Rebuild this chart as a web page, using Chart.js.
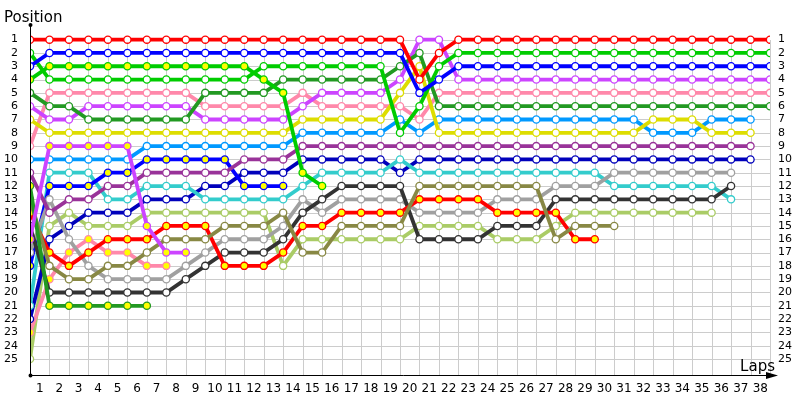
<!DOCTYPE html>
<html>
<head>
<meta charset="utf-8">
<script src="https://cdn.jsdelivr.net/npm/chart.js@4.4.1/dist/chart.umd.min.js"></script>
<style>
    html, body { margin: 0; padding: 0; background: #fff; }
    #wrap { width: 800px; height: 400px; position: relative; }
</style>
</head>
<body>
<div id="wrap"><canvas id="lapChart"></canvas></div>
<script>
// Lap chart data: position of each car after lap 0..38 (null = retired)
const laps = [0,1,2,3,4,5,6,7,8,9,10,11,12,13,14,15,16,17,18,19,20,21,22,23,24,25,26,27,28,29,30,31,32,33,34,35,36,37,38];
const lapLabels = [1,2,3,4,5,6,7,8,9,10,11,12,13,14,15,16,17,18,19,20,21,22,23,24,25,26,27,28,29,30,31,32,33,34,35,36,37,38];
const positions = [1,2,3,4,5,6,7,8,9,10,11,12,13,14,15,16,17,18,19,20,21,22,23,24,25];

const red      = [1,1,1,1,1,1,1,1,1,1, 1,1,1,1,1,1,1,1,1,1, 4,2,1,1,1,1,1,1,1,1, 1,1,1,1,1,1,1,1,1];
const blue     = [3,2,2,2,2,2,2,2,2,2, 2,2,2,2,2,2,2,2,2,2, 5,4,3,3,3,3,3,3,3,3, 3,3,3,3,3,3,3,3,3];
const green    = [2,4,4,4,4,4,4,4,4,4, 4,4,3,3,3,3,3,3,3,8, 6,3,2,2,2,2,2,2,2,2, 2,2,2,2,2,2,2,2,2];
const greenY   = [4,3,3,3,3,3,3,3,3,3, 3,3,4,5,11,12];
const dkGreen  = [5,6,6,7,7,7,7,7,7,5, 5,5,5,4,4,4,4,4,4,3, 2,6,6,6,6,6,6,6,6,6, 6,6,6,6,6,6,6,6,6];
const purple   = [6,7,7,6,6,6,6,6,6,7, 7,7,7,7,6,5,5,5,5,4, 1,1,4,4,4,4,4,4,4,4, 4,4,4,4,4,4,4,4,4];
const yellow   = [7,8,8,8,8,8,8,8,8,8, 8,8,8,8,7,7,7,7,7,5, 3,8,8,8,8,8,8,8,8,8, 8,8,7,7,7,8,8,8];
const pink     = [9,5,5,5,5,5,5,5,5,6, 6,6,6,6,5,6,6,6,6,6, 7,5,5,5,5,5,5,5,5,5, 5,5,5,5,5,5,5,5,5];
const purpleY  = [16,9,9,9,9,9,15,17,17];
const ltBlue   = [10,10,10,10,10,10,9,9,9,9, 9,9,9,9,8,8,8,8,8,7, 8,7,7,7,7,7,7,7,7,7, 7,7,8,8,8,7,7,7];
const dkPurple = [11,14,13,13,12,12,11,11,11,11, 11,10,10,10,9,9,9,9,9,9, 9,9,9,9,9,9,9,9,9,9, 9,9,9,9,9,9,9,9];
const dkGreenY = [12,21,21,21,21,21,21];
const olive    = [13,18,19,19,18,18,17,16,16,16, 15,15,15,14,17,17,15,15,15,15, 12,12,12,12,12,12,12,16,15,15, 15];
const redY     = [14,17,18,17,16,16,16,15,15,15, 18,18,18,17,15,15,14,14,14,14, 13,13,13,13,14,14,14,14,16,16];
const black    = [15,20,20,20,20,20,20,20,19,18, 17,17,17,16,14,13,12,12,12,12, 16,16,16,16,15,15,15,13,13,13, 13,13,13,13,13,13,12];
const gray     = [17,13,16,18,19,19,19,19,18,17, 16,16,16,15,13,14,13,13,13,13, 14,14,14,14,13,13,13,12,12,12, 11,11,11,11,11,11,11];
const blueY    = [18,12,12,12,11,11,10,10,10,10, 10,12,12,12];
const cyan     = [21,11,11,11,13,13,12,12,12,13, 13,13,13,13,12,11,11,11,11,10, 11,11,11,11,11,11,11,11,11,11, 12,12,12,12,12,12,13];
const dkBlue   = [22,16,15,14,14,14,13,13,13,12, 12,11,11,11,10,10,10,10,10,11, 10,10,10,10,10,10,10,10,10,10, 10,10,10,10,10,10,10,10];
const pinkY    = [23,19,17,16,17,17,18,18];
const ltGreen  = [25,15,14,15,15,15,14,14,14,14, 14,14,14,18,16,16,16,16,16,16, 15,15,15,15,16,16,16,15,14,14, 14,14,14,14,14,14];

// [data, line colour, marker fill]
const cars = [
    [red, '#ff0000', '#ffffff'],
    [blue, '#0000ff', '#ffffff'],
    [green, '#00cc00', '#ffffff'],
    [greenY, '#00cc00', '#ffff00'],
    [dkGreen, '#229922', '#ffffff'],
    [purple, '#cc44ff', '#ffffff'],
    [yellow, '#dddd00', '#ffffff'],
    [pink, '#ff88aa', '#ffffff'],
    [purpleY, '#cc44ff', '#ffff00'],
    [ltBlue, '#0099ff', '#ffffff'],
    [dkPurple, '#993399', '#ffffff'],
    [dkGreenY, '#229922', '#ffff00'],
    [olive, '#888844', '#ffffff'],
    [redY, '#ff0000', '#ffff00'],
    [black, '#333333', '#ffffff'],
    [gray, '#a0a0a0', '#ffffff'],
    [blueY, '#0000ff', '#ffff00'],
    [cyan, '#33cccc', '#ffffff'],
    [dkBlue, '#0000bb', '#ffffff'],
    [pinkY, '#ff88aa', '#ffff00'],
    [ltGreen, '#aacc66', '#ffffff']
];

const datasets = cars.map(([data, color, fill]) => ({
    data: data.map((p, i) => ({ x: laps[i], y: p })),
    borderColor: color,
    borderWidth: 3.8,
    pointRadius: 3.6,
    pointBorderWidth: 1.3,
    pointBackgroundColor: fill,
    pointBorderColor: color,
    tension: 0,
    spanGaps: false
}));

const tickFont = { family: 'DejaVu Sans', size: 11 };

// grid, axis lines with arrow and the two titles
const frame = {
    id: 'frame',
    beforeDatasetsDraw(chart) {
        const { ctx, scales: { x, y } } = chart;
        const top = y.getPixelForValue(1);
        const bottom = Math.round(chart.chartArea.bottom);
        const left = x.getPixelForValue(0);
        const right = x.getPixelForValue(38);
        ctx.save();
        ctx.strokeStyle = '#cccccc';
        ctx.lineWidth = 1;
        ctx.beginPath();
        positions.forEach(p => {
            const py = Math.round(y.getPixelForValue(p)) + 0.5;
            ctx.moveTo(left, py);
            ctx.lineTo(right, py);
        });
        laps.forEach(l => {
            const px = Math.round(x.getPixelForValue(l)) + 0.5;
            ctx.moveTo(px, Math.round(top));
            ctx.lineTo(px, bottom);
        });
        ctx.stroke();
        ctx.restore();
    },
    afterDraw(chart) {
        const { ctx, chartArea } = chart;
        const ax = Math.round(chartArea.left) + 0.5;
        const ay = Math.round(chartArea.bottom) + 0.5;
        ctx.save();
        ctx.strokeStyle = '#000';
        ctx.fillStyle = '#000';
        ctx.lineWidth = 1;
        ctx.beginPath();
        ctx.moveTo(ax, chartArea.top);
        ctx.lineTo(ax, ay);
        ctx.lineTo(chartArea.right + 6, ay);
        ctx.stroke();
        ctx.beginPath();
        ctx.arc(ax, chartArea.top, 2, 0, Math.PI * 2);
        ctx.arc(ax, ay, 2, 0, Math.PI * 2);
        ctx.fill();
        ctx.beginPath();
        ctx.moveTo(chartArea.right + 8, ay);
        ctx.lineTo(chartArea.right - 4, ay - 3.5);
        ctx.lineTo(chartArea.right - 4, ay + 3.5);
        ctx.closePath();
        ctx.fill();
        ctx.font = '15px "DejaVu Sans"';
        ctx.textBaseline = 'alphabetic';
        ctx.textAlign = 'left';
        ctx.fillText('Position', 4, 22);
        ctx.textAlign = 'right';
        ctx.fillText('Laps', 775, 371);
        ctx.restore();
    }
};

new Chart(document.getElementById('lapChart'), {
    type: 'line',
    data: { datasets },
    options: {
        responsive: true,
        maintainAspectRatio: false,
        animation: false,
        events: [],
        layout: { padding: { top: 25, left: 0, right: 0, bottom: 0 } },
        plugins: {
            legend: { display: false },
            tooltip: { enabled: false }
        },
        scales: {
            x: {
                type: 'linear',
                min: 0,
                max: 38,
                grid: { display: false, drawTicks: false },
                border: { display: false },
                afterBuildTicks: axis => { axis.ticks = lapLabels.map(v => ({ value: v - 0.5 })); },
                afterFit: axis => { axis.height = 25; },
                ticks: {
                    autoSkip: false,
                    maxRotation: 0,
                    padding: 7,
                    color: '#000',
                    font: { family: 'DejaVu Sans', size: 12 },
                    callback: (v, i) => String(lapLabels[i])
                }
            },
            y: {
                type: 'linear',
                position: 'left',
                reverse: true,
                min: -0.1,
                max: 26.2,
                grid: { display: false, drawTicks: false },
                border: { display: false },
                afterBuildTicks: axis => { axis.ticks = positions.map(v => ({ value: v })); },
                afterFit: axis => { axis.width = 30; },
                ticks: { autoSkip: false, padding: 12, color: '#000', font: tickFont, callback: (v, i) => String(positions[i]) }
            },
            y2: {
                type: 'linear',
                position: 'right',
                reverse: true,
                min: -0.1,
                max: 26.2,
                grid: { display: false, drawTicks: false },
                border: { display: false },
                afterBuildTicks: axis => { axis.ticks = positions.map(v => ({ value: v })); },
                afterFit: axis => { axis.width = 30; },
                ticks: { autoSkip: false, padding: 8, color: '#000', font: tickFont, callback: (v, i) => String(positions[i]) }
            }
        }
    },
    plugins: [frame]
});
</script>
</body>
</html>
